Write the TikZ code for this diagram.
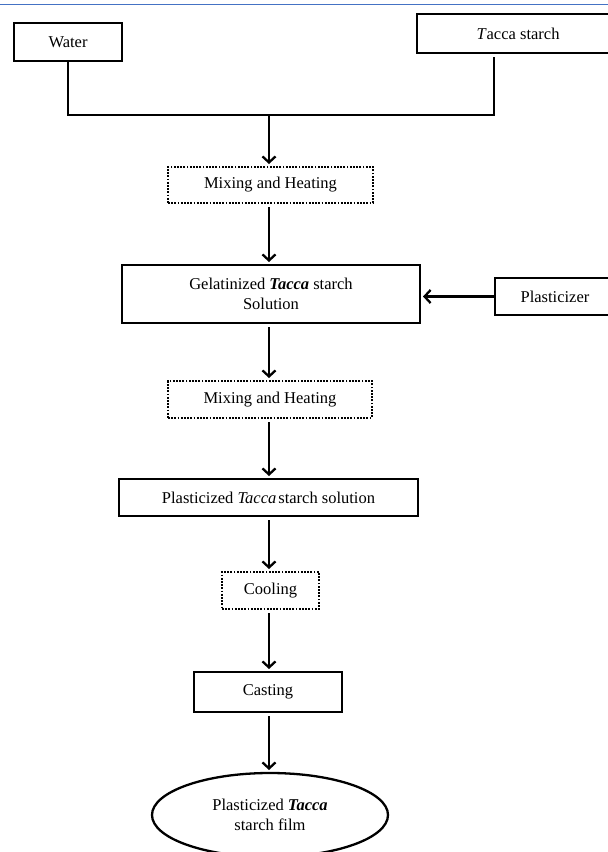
\documentclass[tikz,border=0pt]{standalone}
\usepackage{fontspec}
\setmainfont{Liberation Serif}
\usetikzlibrary{arrows.meta,shapes.geometric}
\definecolor{topblue}{RGB}{68,114,196}
\begin{document}
\begin{tikzpicture}[x=1pt,y=-1pt,
  every node/.style={font=\fontsize{16.5}{19.5}\selectfont, inner sep=0pt, outer sep=0pt},
  box/.style={draw, line width=2.3pt, rectangle, align=center},
  dotbox/.style={draw, line width=2.3pt, rectangle, align=center, dash pattern=on 1.8pt off 1.4pt},
  conn/.style={line width=2.3pt},
  arr/.style={line width=2.3pt, -{Straight Barb[length=6pt,width=13pt]}, shorten <=4pt, shorten >=3pt}]
\useasboundingbox (0,0) rectangle (608,852);
\fill[white] (0,0) rectangle (608,852);
\draw[topblue, line width=1.5pt] (0,4.5) -- (608,4.5);

\node[box, minimum width=108pt, minimum height=38pt] (water) at (68,42) {Water};
\node[box, minimum width=202pt, minimum height=39pt] (tacca) at (518,33.5) {\textit{T}acca starch};
\node[dotbox, minimum width=205pt, minimum height=36pt] (mix1) at (270.5,185) {Mixing and Heating};
\node[box, minimum width=298pt, minimum height=58pt] (gel) at (271,294) {Gelatinized \textbf{\textit{Tacca}} starch\\Solution};
\node[box, minimum width=120pt, minimum height=37pt] (plast) at (555,296.5) {Plasticizer};
\node[dotbox, minimum width=204pt, minimum height=37pt] (mix2) at (270,399.5) {Mixing and Heating};
\node[box, minimum width=299pt, minimum height=37pt] (sol) at (268.5,497.5) {Plasticized \textit{Tacca}\hspace{2pt}starch solution};
\node[dotbox, minimum width=97pt, minimum height=37pt] (cool) at (270.5,590.5) {Cooling};
\node[box, minimum width=148pt, minimum height=40pt] (cast) at (268,692) {Casting};
\node[draw, line width=2.3pt, ellipse, minimum width=236pt, minimum height=84pt, align=center] (film) at (270,815) {Plasticized \textbf{\textit{Tacca}}\\starch film};

\coordinate (jl) at (68,115);
\coordinate (jm) at (269,115);
\coordinate (jr) at (494,115);
\coordinate (tr) at (494,57);

\draw[conn] (water.south) -- (jl) -- (jr) -- (tr);
\draw[arr, shorten <=0pt] (jm) -- (mix1.north -| jm);
\draw[arr] (mix1.south -| jm) -- (gel.north -| jm);
\draw[arr, shorten <=0pt] (plast.west) -- (plast.west -| gel.east);
\draw[arr] (gel.south -| jm) -- (mix2.north -| jm);
\draw[arr] (mix2.south -| jm) -- (sol.north -| jm);
\draw[arr] (sol.south -| jm) -- (cool.north -| jm);
\draw[arr] (cool.south -| jm) -- (cast.north -| jm);
\draw[arr] (cast.south -| jm) -- (film.north -| jm);
\end{tikzpicture}
\end{document}
